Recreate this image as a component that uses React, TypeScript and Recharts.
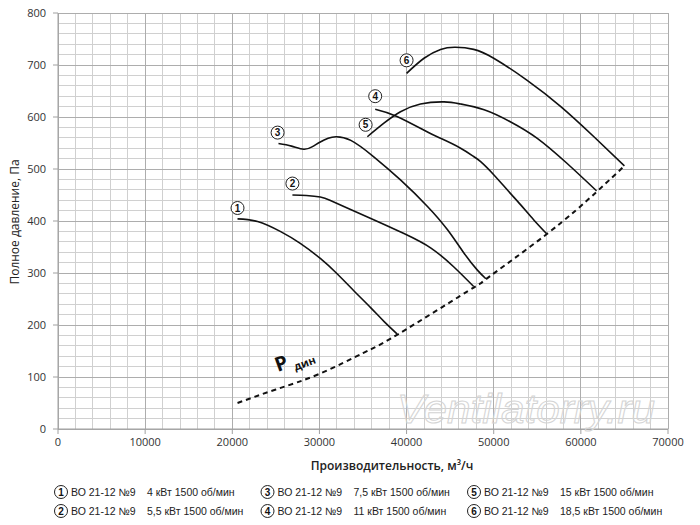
import React from 'react';
import { ComposedChart, Line, XAxis, YAxis, CartesianGrid, ReferenceDot } from 'recharts';

// Axis ticks
const xTicks = [0, 10000, 20000, 30000, 40000, 50000, 60000, 70000];
const yTicks = [0, 100, 200, 300, 400, 500, 600, 700, 800];
const xMinor = Array.from({ length: 35 }, (_, i) => i * 2000).filter((v) => v % 10000 !== 0);
const yMinor = Array.from({ length: 40 }, (_, i) => i * 20).filter((v) => v % 100 !== 0);

// Fan curves: [airflow m3/h, pressure Pa]
const curve1: number[][] = [[20600, 404], [22900, 399], [25500, 380], [27800, 357], [30100, 328], [32000, 299], [34000, 265], [35900, 233], [37400, 207], [38900, 183]];
const curve2: number[][] = [[26900, 450], [28500, 449], [30100, 446], [31200, 440], [32800, 428], [35900, 405], [39700, 376], [42800, 348], [45400, 312], [47700, 274]];
const curve3: number[][] = [[25300, 549], [26800, 544], [28200, 538], [29200, 543], [30100, 552], [31000, 559], [31900, 562], [33600, 555], [36200, 524], [39300, 479], [42400, 428], [44700, 383], [46600, 338], [48100, 306], [49100, 289]];
const curve4: number[][] = [[36400, 615], [38900, 601], [42400, 571], [43900, 559], [46200, 540], [47700, 524], [48500, 514], [50000, 489], [51600, 459], [53100, 431], [54600, 402], [56100, 375]];
const curve5: number[][] = [[35500, 562], [37400, 588], [39300, 610], [41600, 625], [44300, 629], [46200, 625], [48900, 614], [51900, 591], [55000, 559], [58400, 511], [61800, 458]];
const curve6: number[][] = [[40000, 684], [42000, 713], [43900, 730], [45600, 734], [47700, 730], [50000, 713], [53800, 671], [57700, 620], [61500, 562], [65000, 506]];
const pdyn: number[][] = [[20600, 50], [25000, 76], [30000, 106], [35000, 146], [39000, 182], [47700, 272], [49100, 288], [56100, 375], [61800, 456], [65000, 506]];

// Curve number markers [x, y]
const markerLabels = ['1', '2', '3', '4', '5', '6'];
const markerPos: number[][] = [[20600, 425], [26900, 472], [25200, 570], [36400, 640], [35300, 585], [40000, 709]];
const pdynLabelPos = [25700, 127];

// Legend
const legendNums = ['1', '2', '3', '4', '5', '6'];
const legendModel = 'ВО 21-12 №9';
const legendPower = ['4 кВт 1500 об/мин', '5,5 кВт 1500 об/мин', '7,5 кВт 1500 об/мин', '11 кВт 1500 об/мин', '15 кВт 1500 об/мин', '18,5 кВт 1500 об/мин'];

const toPts = (a: number[][]) => a.map(([x, y]) => ({ x, y }));
const curves = [curve1, curve2, curve3, curve4, curve5, curve6];

const scaleOf = (axis: any, v: number, fallback: number) => {
  const s = axis && axis.scale;
  if (typeof s === 'function') {
    const r = s(v);
    if (typeof r === 'number' && isFinite(r)) return r;
  }
  if (s && typeof s.map === 'function') {
    const r = s.map(v);
    if (typeof r === 'number' && isFinite(r)) return r;
  }
  return fallback;
};

const FONT = "'Open Sans', 'DejaVu Sans', sans-serif";
const LFONT = "'Liberation Sans', Arial, sans-serif";

export default function App() {
  return (
    <div style={{ position: 'absolute', left: 0, top: 0, width: 700, height: 525, background: '#fff' }}>
      <ComposedChart width={700} height={525} margin={{ top: 13, right: 32, bottom: 0, left: 0 }}>
        <CartesianGrid
          stroke="#d0d0d0"
          strokeWidth={1}
          shapeRendering="crispEdges"
          verticalCoordinatesGenerator={(p: any) =>
            xMinor.map((v) => scaleOf(p.xAxis, v, p.offset.left + (v / 70000) * p.offset.width))
          }
          horizontalCoordinatesGenerator={(p: any) =>
            yMinor.map((v) => scaleOf(p.yAxis, v, p.offset.top + p.offset.height - (v / 800) * p.offset.height))
          }
        />
        <CartesianGrid stroke="#adadad" strokeWidth={1} shapeRendering="crispEdges" />
        <XAxis
          type="number"
          dataKey="x"
          domain={[0, 70000]}
          ticks={xTicks}
          interval={0}
          allowDataOverflow
          height={96}
          stroke="#a0a0a0"
          tickSize={5}
          tickMargin={4}
          tick={{ fontSize: 11, fill: '#333', fontFamily: FONT }}
          label={{
            content: () => (
              <text x={392} y={470} textAnchor="middle" fontSize={12} fontWeight={600} fill="#222" fontFamily={FONT}>
                Производительность, м³/ч
              </text>
            ),
          }}
        />
        <YAxis
          type="number"
          domain={[0, 800]}
          ticks={yTicks}
          interval={0}
          allowDataOverflow
          width={58}
          stroke="#a0a0a0"
          tickSize={5}
          tickMargin={7}
          tick={{ fontSize: 11, fill: '#333', fontFamily: FONT }}
          label={{
            content: () => (
              <text x={19} y={222} transform="rotate(-90 19 222)" textAnchor="middle" fontSize={12} fill="#222" fontFamily={FONT}>
                Полное давление, Па
              </text>
            ),
          }}
        />
        {curves.map((c, i) => (
          <Line
            key={i}
            data={toPts(c)}
            dataKey="y"
            type="natural"
            stroke="#111"
            strokeWidth={1.6}
            dot={false}
            activeDot={false}
            isAnimationActive={false}
          />
        ))}
        <Line
          data={toPts(pdyn)}
          dataKey="y"
          type="natural"
          stroke="#111"
          strokeWidth={2}
          strokeDasharray="5 4"
          dot={false}
          activeDot={false}
          isAnimationActive={false}
        />
        {markerPos.map(([x, y], i) => (
          <ReferenceDot
            key={'m' + i}
            x={x}
            y={y}
            r={6.5}
            fill="#fff"
            stroke="#222"
            strokeWidth={1}
            label={{
              content: (props: any) => {
                const vb = props.viewBox || {};
                const cx = vb.x + vb.width / 2;
                const cy = vb.y + vb.height / 2;
                return (
                  <text x={cx} y={cy} dy="0.36em" textAnchor="middle" fontSize={10} fontWeight={600} fill="#111" fontFamily={LFONT}>
                    {markerLabels[i]}
                  </text>
                );
              },
            }}
          />
        ))}
        <ReferenceDot
          x={pdynLabelPos[0]}
          y={pdynLabelPos[1]}
          r={0}
          fill="none"
          stroke="none"
          label={{
            content: (props: any) => {
              const vb = props.viewBox || {};
              const cx = vb.x + (vb.width || 0) / 2;
              const cy = vb.y + (vb.height || 0) / 2;
              return (
                <g transform={`translate(${cx} ${cy}) rotate(-20)`}>
                  <text x={-7} y={7} fontSize={20} fontWeight={700} fill="#111" fontFamily={FONT}>P</text>
                  <text x={10} y={12} fontSize={11} fontWeight={700} fill="#111" fontFamily={FONT}>дин</text>
                </g>
              );
            },
          }}
        />
      </ComposedChart>
      <svg width={700} height={525} style={{ position: 'absolute', left: 0, top: 0, pointerEvents: 'none' }}>
        <text
          x={397}
          y={423}
          textLength={258}
          lengthAdjust="spacingAndGlyphs"
          fontSize={40}
          fontStyle="italic"
          fill="none"
          stroke="#d4d4d4"
          strokeWidth={1}
          fontFamily={LFONT}
        >
          Ventilatorry.ru
        </text>
        {legendNums.map((n, i) => {
          const col = Math.floor(i / 2);
          const row = i % 2;
          const cx = 61 + col * 206.5;
          const cy = 492 + row * 19;
          return (
            <g key={'l' + i}>
              <circle cx={cx} cy={cy} r={6.5} fill="#fff" stroke="#222" strokeWidth={1} />
              <text x={cx} y={cy} dy="0.36em" textAnchor="middle" fontSize={10} fontWeight={600} fill="#111" fontFamily={LFONT}>
                {n}
              </text>
              <text x={cx + 10} y={cy} dy="0.36em" fontSize={10.5} fill="#222" fontFamily={LFONT}>
                {legendModel}
              </text>
              <text x={cx + 86} y={cy} dy="0.36em" fontSize={10.5} fill="#222" fontFamily={LFONT}>
                {legendPower[i]}
              </text>
            </g>
          );
        })}
      </svg>
    </div>
  );
}
